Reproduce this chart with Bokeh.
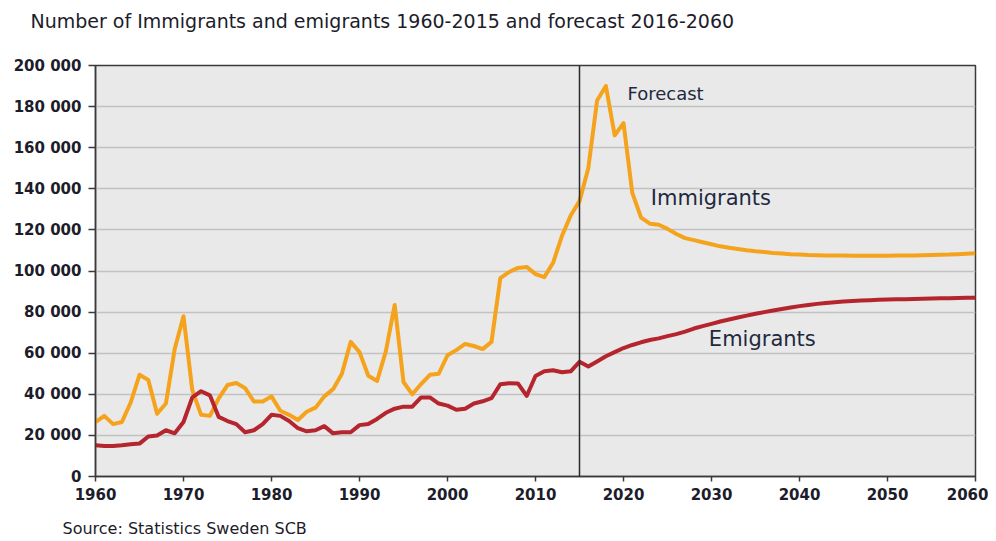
from bokeh.plotting import figure
from bokeh.models import Range1d, FixedTicker, Span, Label, Title, ColumnDataSource
from bokeh.embed import file_html
from bokeh.resources import INLINE

years = list(range(1960, 2061))

immigrants = [
    26500, 29500, 25500, 26500, 36000, 49500, 47000, 30500, 35500, 62000,   # 1960-69
    78000, 42000, 30000, 29500, 38000, 44500, 45500, 43000, 36500, 36500,   # 1970-79
    39000, 32000, 30000, 27500, 31500, 33500, 39000, 42500, 50000, 65500,   # 1980-89
    60500, 49000, 46500, 61000, 83500, 46000, 40000, 45000, 49500, 50000,   # 1990-99
    59000, 61500, 64500, 63500, 62000, 65500, 96500, 99500, 101500, 102000, # 2000-09
    98500, 97000, 104000, 117000, 127000, 134000, 150000, 183000, 190000, 166000,  # 2010-19
    172000, 138000, 126000, 123000, 122500, 120500, 118000, 116000, 115000, 114000,  # 2020-29
    113000, 112000, 111300, 110700, 110100, 109600, 109200, 108800, 108500, 108200,  # 2030-39
    108000, 107800, 107700, 107600, 107500, 107500, 107400, 107400, 107400, 107400,  # 2040-49
    107400, 107500, 107500, 107600, 107700, 107800, 107900, 108000, 108200, 108400,  # 2050-59
    108600,                                                                   # 2060
]

emigrants = [
    15200, 14800, 14800, 15200, 15700, 16000, 19500, 20000, 22500, 21000,   # 1960-69
    26500, 38500, 41500, 39500, 29000, 27000, 25500, 21500, 22500, 25500,   # 1970-79
    30000, 29500, 27000, 23500, 22000, 22500, 24500, 21000, 21500, 21500,   # 1980-89
    25000, 25500, 28000, 31000, 33000, 34000, 34000, 38500, 38500, 35500,   # 1990-99
    34500, 32500, 33000, 35500, 36600, 38100, 44900, 45400, 45300, 39200,   # 2000-09
    48900, 51200, 51700, 50700, 51200, 55800, 53500, 56000, 58500, 60500,   # 2010-19
    62500, 64000, 65300, 66400, 67200, 68300, 69300, 70500, 72000, 73200,   # 2020-29
    74300, 75400, 76400, 77400, 78300, 79200, 80000, 80800, 81500, 82200,   # 2030-39
    82900, 83500, 84000, 84400, 84800, 85100, 85400, 85600, 85800, 86000,   # 2040-49
    86100, 86200, 86300, 86400, 86500, 86600, 86700, 86800, 86900, 87000,   # 2050-59
    87000,                                                                  # 2060
]

y_ticks = [0, 20000, 40000, 60000, 80000, 100000, 120000, 140000, 160000, 180000, 200000]
y_tick_labels = ["0", "20 000", "40 000", "60 000", "80 000", "100 000", "120 000",
                 "140 000", "160 000", "180 000", "200 000"]
x_ticks = [1960, 1970, 1980, 1990, 2000, 2010, 2020, 2030, 2040, 2050, 2060]
forecast_start = 2015

title_text = "Number of Immigrants and emigrants 1960-2015 and forecast 2016-2060"
source_text = "Source: Statistics Sweden SCB"

src = ColumnDataSource(dict(year=years, imm=immigrants, emi=emigrants))

p = figure(width=988, height=541, output_backend="svg", toolbar_location=None,
           x_range=Range1d(1960, 2060), y_range=Range1d(0, 200000),
           min_border_left=95, min_border_right=13, min_border_top=65, min_border_bottom=65)
p.title = None
p.background_fill_color = "#e9e9e9"
p.border_fill_color = "white"
p.outline_line_color = "#3a3a3a"
p.outline_line_width = 1.5

p.xgrid.grid_line_color = None
p.ygrid.grid_line_color = "#c2c2c2"
p.ygrid.grid_line_width = 1.5

for ax in (p.xaxis[0], p.yaxis[0]):
    ax.axis_line_color = "#3a3a3a"
    ax.axis_line_width = 1.5
    ax.major_tick_line_color = "#3a3a3a"
    ax.major_tick_line_width = 1.5
    ax.major_tick_in = 0
    ax.minor_tick_line_color = None
    ax.major_label_text_font = "DejaVu Sans"
    ax.major_label_text_font_style = "bold"
    ax.major_label_text_font_size = "15px"
    ax.major_label_text_color = "#1c1c2a"

p.yaxis.ticker = FixedTicker(ticks=y_ticks)
p.yaxis.major_label_overrides = {t: l for t, l in zip(y_ticks, y_tick_labels)}
p.yaxis.major_tick_out = 7
p.yaxis.major_label_standoff = 7
p.xaxis.ticker = FixedTicker(ticks=x_ticks)
p.xaxis.major_tick_out = 5
p.xaxis.major_label_standoff = 6

p.add_layout(Span(location=forecast_start, dimension="height", line_color="#2a2a2a", line_width=1.5))

p.line("year", "imm", source=src, line_color="#f5a31c", line_width=4, line_join="round")
p.line("year", "emi", source=src, line_color="#b5252e", line_width=4, line_join="round")

lab_font = "DejaVu Sans"
p.add_layout(Label(x=2020.45, y=186400, text="Forecast", text_font=lab_font, text_font_size="18px",
                   text_color="#1f2940", text_baseline="middle"))
p.add_layout(Label(x=2023.1, y=135300, text="Immigrants", text_font=lab_font, text_font_size="21px",
                   text_color="#1f2940", text_baseline="middle"))
p.add_layout(Label(x=2029.7, y=66700, text="Emigrants", text_font=lab_font, text_font_size="21px",
                   text_color="#1f2940", text_baseline="middle"))

# spacer between the frame and the title, then the title itself
p.add_layout(Title(text=" ", text_font_size="1px", standoff=23), "above")
p.add_layout(Title(text=title_text, align="left", offset=-65, standoff=15,
                   text_font="DejaVu Sans", text_font_size="19px", text_font_style="normal",
                   text_color="#1c1c2a"), "above")
# spacer below the x axis, then the source note
p.add_layout(Title(text=" ", text_font_size="1px", standoff=10), "below")
p.add_layout(Title(text=source_text, align="left", offset=-33, standoff=2,
                   text_font="DejaVu Sans", text_font_size="16px", text_font_style="normal",
                   text_color="#1c1c2a"), "below")

html = file_html(p, INLINE)
open("out.html", "w").write(html)
